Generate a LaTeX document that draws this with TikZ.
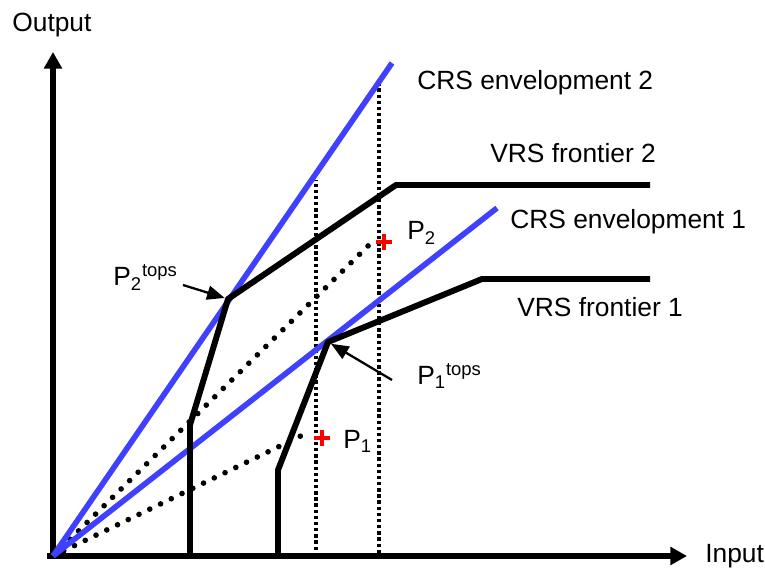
\documentclass[tikz,border=0pt]{standalone}
\usepackage{fontspec}
\setmainfont{Liberation Sans}
\usepackage{tikz}
\usetikzlibrary{positioning,arrows.meta}
\definecolor{crscolor}{rgb}{0.25, 0.25, 1}
\definecolor{obscolor}{rgb}{1, 0, 0}
\newcommand{\topsFmt}[1]{P\textsubscript{#1}\textsuperscript{tops}}
\newcommand{\obsFmt}[1]{P\textsubscript{#1}}

\begin{document}
\begin{tikzpicture}[x=0.02cm, y=-0.02cm,
			axis/.style={line width=3.2pt, -{Triangle[length=9.5pt, width=10pt]}},
			crs/.style={line width=3.2pt, draw=crscolor},
			vrs/.style={line width=3.4pt, line join=bevel},
			proj/.style={line width=2.1pt, dash pattern=on 1.9pt off 1.6pt},
			ray/.style={line width=3.2pt, line cap=round, dash pattern=on 0pt off 6.8pt},
			pointer/.style={line width=1.3pt, -{Triangle[length=10pt, width=8pt]}},
			obs/.style={line width=2pt, draw=obscolor},
			lbl/.style={font=\fontsize{15}{18}\selectfont, inner sep=0pt, anchor=base west},
		]
		\useasboundingbox (0,0) rectangle (765,570);

		% axes
		\coordinate (o)     at (53,556);
		\coordinate (xfrom) at (47,556);
		\coordinate (xto)   at (687,556);
		\coordinate (yfrom) at (53,559);
		\coordinate (yto)   at (53,52);
		\draw[axis] (xfrom) -- (xto);
		\draw[axis] (yfrom) -- (yto);
		\node[lbl] (output) at (12,32)  {Output};
		\node[lbl] (input)  at (705,563) {Input};

		% projections of the observed units
		\coordinate (q1) at (316,556);
		\coordinate (q1top) at (316,180);
		\coordinate (q2) at (379,553);
		\coordinate (q2top) at (379,80);
		\draw[proj] (q1) -- (q1top);
		\draw[proj] (q2) -- (q2top);

		% observed units
		\coordinate (p1) at (322,438);
		\coordinate (p2) at (384,242);
		\coordinate (r1) at (309,432);
		\coordinate (r2) at (369,245);
		\draw[ray] (o) -- (r1);
		\draw[ray] (o) -- (r2);
		\draw[obs] (p1) +(-8,0) -- +(8,0) (p1) +(0,-8) -- +(0,8);
		\draw[obs] (p2) +(-8,0) -- +(8,0) (p2) +(0,-8) -- +(0,8);
		\node[lbl] (p1lbl) at (343,449) {\obsFmt{1}};
		\node[lbl] (p2lbl) at (407,240) {\obsFmt{2}};

		% CRS envelopments
		\coordinate (c1) at (497,208);
		\coordinate (c2) at (392,63);
		\draw[crs] (o) -- (c1);
		\draw[crs] (o) -- (c2);
		\node[lbl] (c1lbl) at (510,229) {CRS envelopment 1};
		\node[lbl] (c2lbl) at (417,90)  {CRS envelopment 2};

		% VRS frontiers
		\coordinate (v1a) at (278,556);
		\coordinate (v1b) at (278,470);
		\coordinate (v1c) at (328,342);
		\coordinate (v1d) at (482,279);
		\coordinate (v1e) at (650,279);
		\coordinate (v2a) at (190,556);
		\coordinate (v2b) at (190,425);
		\coordinate (v2c) at (228,299);
		\coordinate (v2d) at (396,185);
		\coordinate (v2e) at (650,185);
		\draw[vrs] (v1a) -- (v1b) -- (v1c) -- (v1d) -- (v1e);
		\draw[vrs] (v2a) -- (v2b) -- (v2c) -- (v2d) -- (v2e);
		\node[lbl] (v1lbl) at (517,317) {VRS frontier 1};
		\node[lbl] (v2lbl) at (490,163) {VRS frontier 2};

		% technical optimal productive scale points
		\node[lbl] (t1lbl) at (417,385) {\topsFmt{1}};
		\node[lbl] (t2lbl) at (113,286) {\topsFmt{2}};
		\coordinate (t1tail) at (392,380);
		\coordinate (t2tail) at (183,285);
		\draw[pointer, shorten >=2pt] (t1tail) -- (v1c);
		\draw[pointer, shorten >=2pt] (t2tail) -- (v2c);

		\end{tikzpicture}
\end{document}
